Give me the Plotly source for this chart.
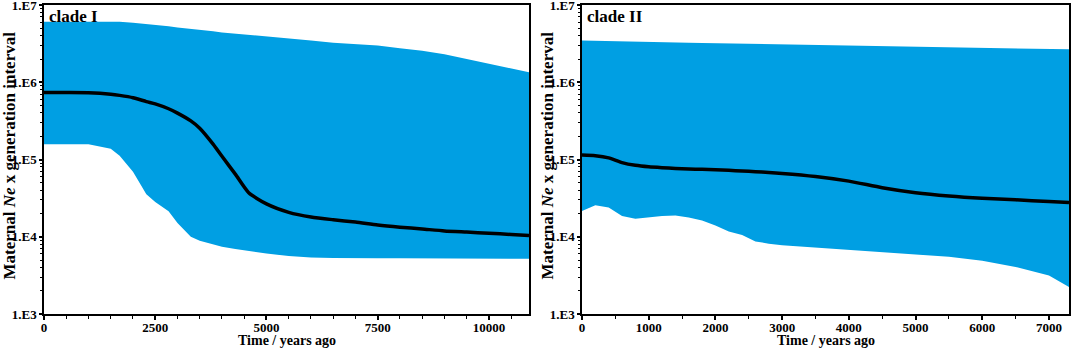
import plotly.graph_objects as go

# ---------------- data ----------------
time_I = [0, 500, 1000, 1500, 1700, 2000, 2300, 2500, 2800, 3000, 3300, 3500, 3800, 4000,
          4300, 4600, 5000, 5500, 6000, 6500, 7000, 7500, 8000, 8500, 9000, 9500, 10000, 10500, 10900]
mean_I = [735000, 735000, 731000, 700000, 676000, 631000, 562000, 525000, 454000, 398000,
          316000, 254000, 158000, 110000, 64600, 37200, 26600, 20700, 18000, 16600, 15500,
          14200, 13300, 12600, 11900, 11500, 11100, 10700, 10400]
upper_I = [6.07e6, 6.07e6, 6.07e6, 6.07e6, 6.05e6, 5.89e6, 5.69e6, 5.56e6, 5.31e6, 5.13e6,
           4.95e6, 4.79e6, 4.57e6, 4.42e6, 4.27e6, 4.12e6, 3.94e6, 3.72e6, 3.47e6, 3.24e6,
           3.09e6, 2.98e6, 2.75e6, 2.55e6, 2.30e6, 2.0e6, 1.74e6, 1.52e6, 1.35e6]
lower_I = [158000, 158000, 158000, 138000, 112000, 69200, 35500, 28200, 21400, 15100, 10000,
           8900, 7940, 7450, 6920, 6530, 6070, 5620, 5370, 5310, 5250, 5250, 5250, 5230, 5220,
           5210, 5200, 5200, 5200]

time_II = [0, 200, 400, 600, 800, 1000, 1200, 1400, 1600, 1800, 2000, 2200, 2400, 2600, 2800,
           3000, 3500, 4000, 4500, 5000, 5500, 6000, 6500, 7000, 7300]
mean_II = [114000, 112000, 105000, 91200, 84100, 80400, 78300, 76700, 75500, 74600, 73800,
           72400, 71100, 69500, 67900, 66100, 60300, 52500, 43200, 37200, 33700, 31500, 30100,
           28500, 27700]
upper_II = [3.48e6, 3.46e6, 3.43e6, 3.40e6, 3.37e6, 3.35e6, 3.31e6, 3.27e6, 3.25e6, 3.22e6,
            3.20e6, 3.18e6, 3.15e6, 3.13e6, 3.11e6, 3.09e6, 3.05e6, 3.01e6, 2.96e6, 2.92e6,
            2.88e6, 2.81e6, 2.75e6, 2.70e6, 2.67e6]
lower_II = [21500, 25600, 24000, 18600, 17100, 18000, 18600, 18900, 17800, 16200, 14000, 11700,
            10500, 8710, 8130, 7760, 7240, 6840, 6310, 5890, 5500, 4900, 4070, 3160, 2240]

panel_titles = ["clade I", "clade II"]
y_tick_vals = [1e3, 1e4, 1e5, 1e6, 1e7]
y_tick_text = ["1.E3", "1.E4", "1.E5", "1.E6", "1.E7"]
x_ticks_I = [0, 2500, 5000, 7500, 10000]
x_ticks_II = [0, 1000, 2000, 3000, 4000, 5000, 6000, 7000]
x_range_I = [0, 10900]
x_range_II = [0, 7300]

# ---------------- style ----------------
FILL = "#009FE3"
SERIF = "Liberation Serif"

fig = go.Figure()

panels = [
    (time_I, mean_I, upper_I, lower_I, "x", "y"),
    (time_II, mean_II, upper_II, lower_II, "x2", "y2"),
]
for t, m, up, lo, xa, ya in panels:
    fig.add_trace(go.Scatter(x=t, y=lo, mode="lines", line=dict(width=0, color=FILL),
                             xaxis=xa, yaxis=ya, showlegend=False, hoverinfo="skip"))
    fig.add_trace(go.Scatter(x=t, y=up, mode="lines", line=dict(width=0, color=FILL),
                             fill="tonexty", fillcolor=FILL,
                             xaxis=xa, yaxis=ya, showlegend=False, hoverinfo="skip"))
    fig.add_trace(go.Scatter(x=t, y=m, mode="lines", line=dict(width=3.5, color="black",
                             shape="spline", smoothing=0.6),
                             xaxis=xa, yaxis=ya, showlegend=False))

W, H = 1072, 349
ydom = [1 - 314 / H, 1 - 5 / H]
xdom1 = [44 / W, 529 / W]
xdom2 = [582 / W, 1069 / W]

tickfont = dict(family=SERIF, size=13, color="black", weight="bold")

minor_y = []
for d in [1e3, 1e4, 1e5, 1e6]:
    for k in range(2, 10):
        minor_y.append(k * d)


def xaxis(dom, rng, ticks, anchor):
    minor_vals = list(range(0, int(rng[1]) + 1, 500))
    return dict(domain=dom, range=rng, anchor=anchor, tickvals=ticks, automargin=False,
                ticktext=[str(v) for v in ticks], ticks="outside", ticklen=4,
                ticklabelstandoff=-3, ticklabeloverflow="allow",
                tickwidth=1.5, tickcolor="black", showline=True, linecolor="black",
                linewidth=1.5, mirror=True, showgrid=False, zeroline=False,
                tickfont=tickfont,
                minor=dict(tickvals=minor_vals, ticks="outside", ticklen=3,
                           tickcolor="black", tickwidth=1, showgrid=False))


def yaxis(anchor):
    return dict(domain=ydom, type="log", range=[3, 7], anchor=anchor, automargin=False,
                tickvals=y_tick_vals, ticktext=y_tick_text, ticks="outside", ticklen=3,
                ticklabeloverflow="allow",
                tickwidth=1.5, tickcolor="black", showline=True, linecolor="black",
                linewidth=1.5, mirror=True, showgrid=False, zeroline=False,
                tickfont=tickfont,
                minor=dict(tickvals=minor_y, ticks="outside", ticklen=2,
                           tickcolor="black", tickwidth=1, showgrid=False))


ytitle = "Maternal <i>Ne</i> x generation interval"
annotations = []
for xd, title in [(xdom1, panel_titles[0]), (xdom2, panel_titles[1])]:
    annotations.append(dict(text=title, xref="paper", yref="paper", x=xd[0] + 3 / W,
                            y=ydom[1] - 0 / H, xanchor="left", yanchor="top", showarrow=False,
                            font=dict(family=SERIF, size=17, color="black", weight="bold")))
    annotations.append(dict(text="Time / years ago", xref="paper", yref="paper",
                            x=(xd[0] + xd[1]) / 2, y=1 - 340 / H, xanchor="center",
                            yanchor="middle", showarrow=False,
                            font=dict(family=SERIF, size=14, color="black", weight="bold")))
    annotations.append(dict(text=ytitle, xref="paper", yref="paper",
                            x=xd[0] - 35 / W, y=(ydom[0] + ydom[1]) / 2 + 4 / H, textangle=-90,
                            xanchor="center", yanchor="middle", showarrow=False,
                            font=dict(family=SERIF, size=17, color="black", weight="bold")))

fig.update_layout(
    width=W, height=H,
    margin=dict(l=0, r=0, t=0, b=0, autoexpand=False),
    paper_bgcolor="white", plot_bgcolor="white",
    xaxis=xaxis(xdom1, x_range_I, x_ticks_I, "y"),
    yaxis=yaxis("x"),
    xaxis2=xaxis(xdom2, x_range_II, x_ticks_II, "y2"),
    yaxis2=yaxis("x2"),
    annotations=annotations,
)

fig.write_html("out.html", config={"displayModeBar": False},
               post_script="document.body.style.margin='0px';document.body.style.overflow='hidden';")
